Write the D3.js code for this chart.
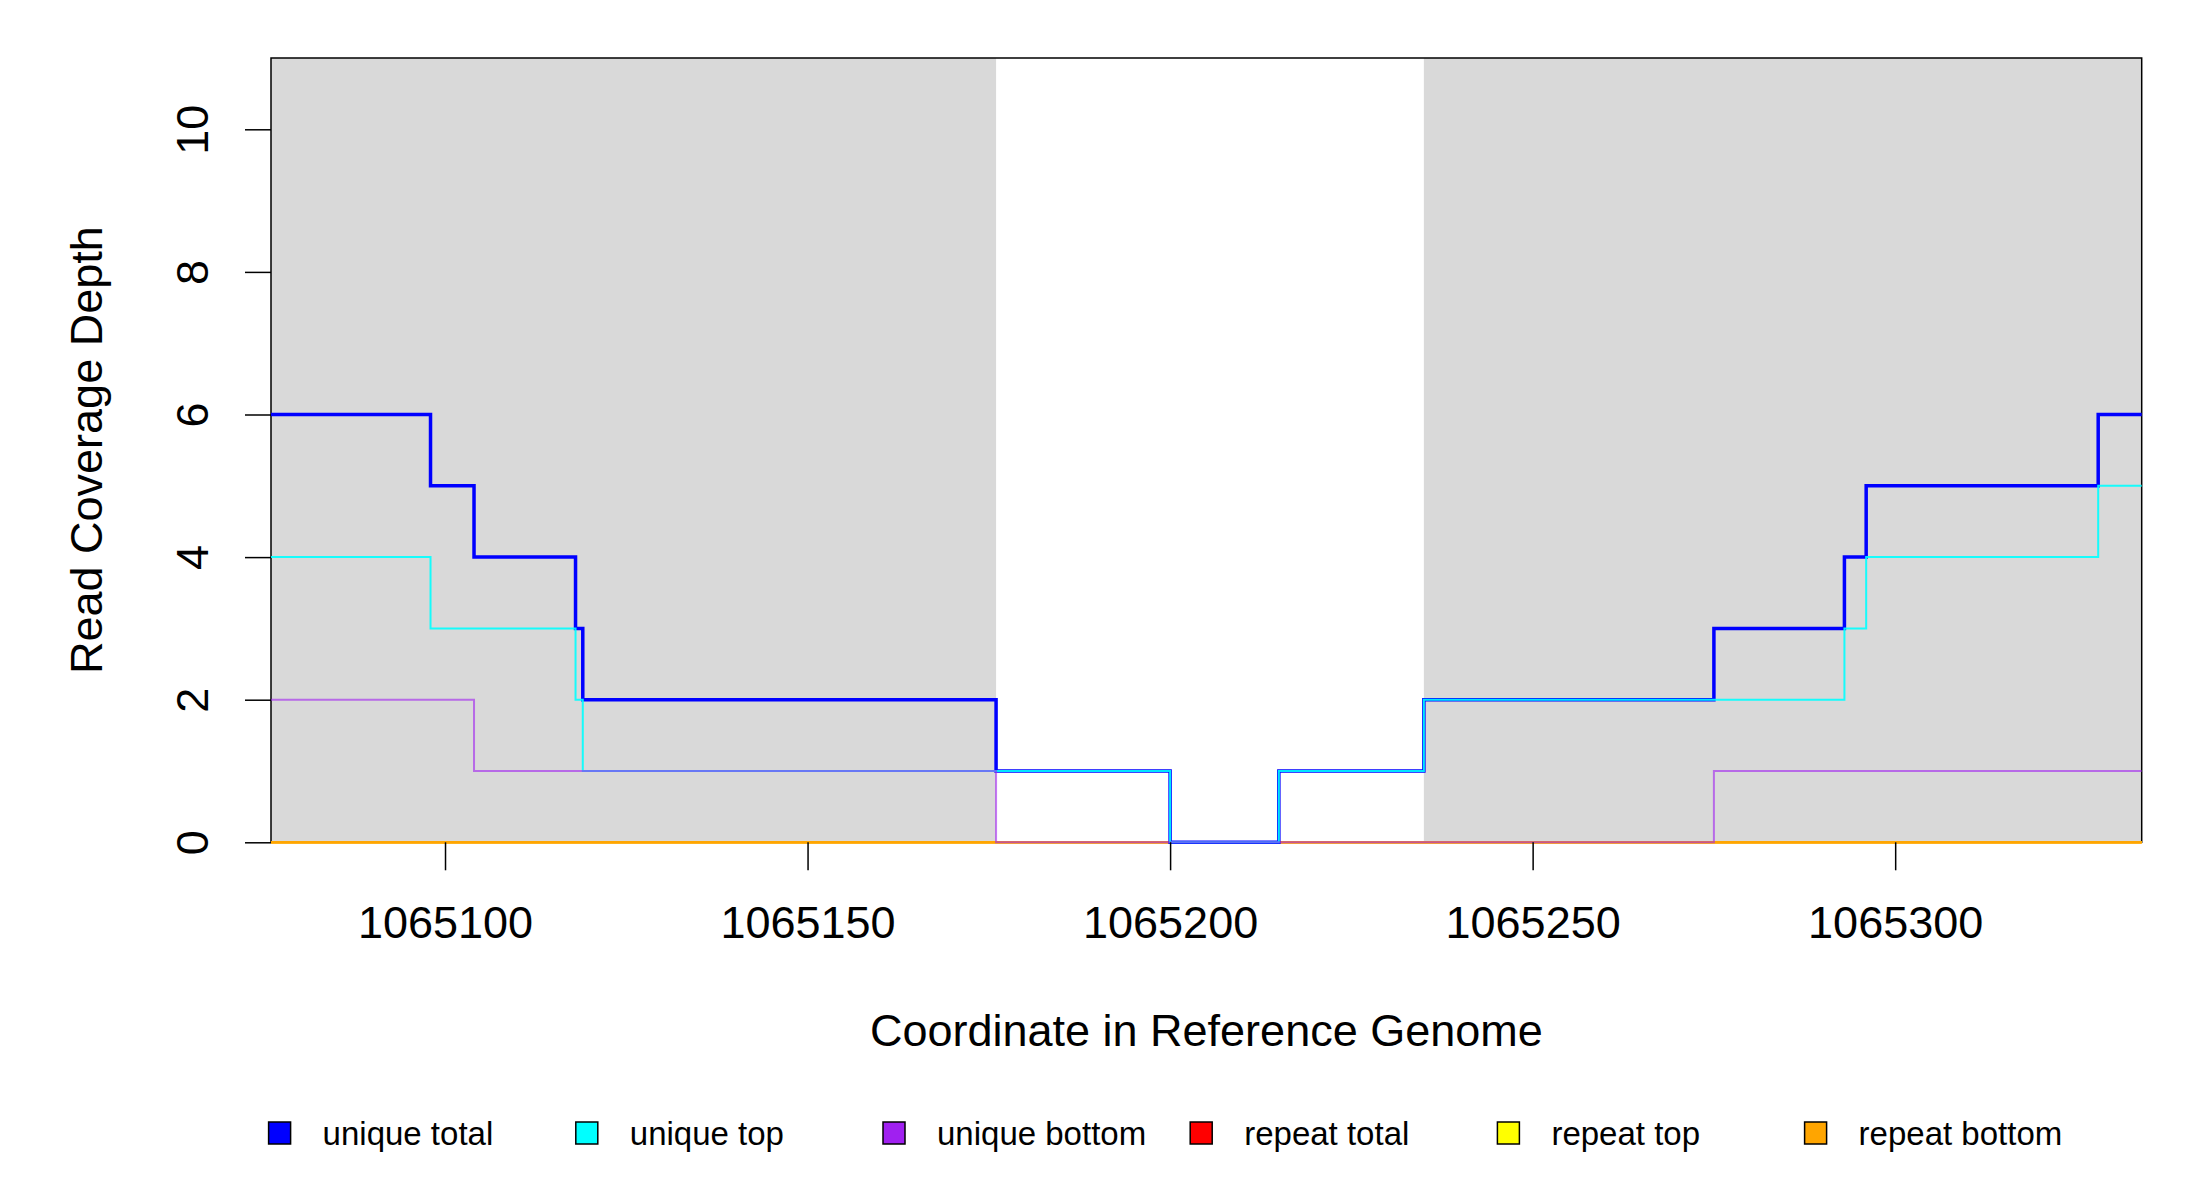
<!DOCTYPE html>
<html>
<head>
<meta charset="utf-8">
<script src="https://cdn.jsdelivr.net/npm/d3@7"></script>
<style>
  body { margin: 0; background: #fff; }
  text { font-family: "Liberation Sans", Arial, sans-serif; fill: #000; }
</style>
</head>
<body>
<svg id="chart" width="2200" height="1200"></svg>
<script>
(function () {
    'use strict';

    // step breakpoints (reference coordinate where each value starts)
    var positions = [1065076, 1065098, 1065104, 1065118, 1065119, 1065176, 1065200,
                     1065215, 1065235, 1065275, 1065293, 1065296, 1065328, 1065334];
    var uniqueTotal  = [6, 5, 4, 3, 2, 1, 0, 1, 2, 3, 4, 5, 6, 6];
    var uniqueTop    = [4, 3, 3, 2, 1, 1, 0, 1, 2, 2, 3, 4, 5, 5];
    var uniqueBottom = [2, 2, 1, 1, 1, 0, 0, 0, 0, 1, 1, 1, 1, 1];
    var repeatTotal  = [0, 0, 0, 0, 0, 0, 0, 0, 0, 0, 0, 0, 0, 0];
    var repeatTop    = [0, 0, 0, 0, 0, 0, 0, 0, 0, 0, 0, 0, 0, 0];
    var repeatBottom = [0, 0, 0, 0, 0, 0, 0, 0, 0, 0, 0, 0, 0, 0];

    // shaded regions [start, end]
    var regions = [[1065076, 1065176], [1065235, 1065334]];

    var xTicks = [1065100, 1065150, 1065200, 1065250, 1065300];
    var yTicks = [0, 2, 4, 6, 8, 10];

    var legendLabels = ['unique total', 'unique top', 'unique bottom',
                        'repeat total', 'repeat top', 'repeat bottom'];
    var legendColors = ['#0000FF', '#00FFFF', '#A020F0', '#FF0000', '#FFFF00', '#FFA500'];

    var left = 271, right = 2141.7, top = 58, bottom = 842.3;

    var svg = d3.select('#chart');

    var x = d3.scaleLinear().domain([1065076, 1065334]).range([left, right]);
    var y = d3.scaleLinear().domain([0, 11]).range([bottom, top]);

    // grey regions
    svg.selectAll('rect.region')
        .data(regions)
        .enter().append('rect')
        .attr('class', 'region')
        .attr('x', function (d) { return x(d[0]); })
        .attr('width', function (d) { return x(d[1]) - x(d[0]); })
        .attr('y', top)
        .attr('height', bottom - top)
        .style('fill', '#D9D9D9');

    // box (lines are drawn over it)
    svg.append('rect')
        .attr('x', left).attr('y', top)
        .attr('width', right - left).attr('height', bottom - top)
        .style('fill', 'none').style('stroke', '#000').style('stroke-width', 1.5);

    var line = d3.line()
        .x(function (d) { return x(d[0]); })
        .y(function (d) { return y(d[1]); })
        .curve(d3.curveStepAfter);

    function zipped(vals) {
        return positions.map(function (p, i) { return [p, vals[i]]; });
    }

    var series = [
        {vals: repeatTotal,  color: '#FF0000', width: 2.5, op: 1},
        {vals: repeatTop,    color: '#FFFF00', width: 2.5, op: 1},
        {vals: repeatBottom, color: '#FFA500', width: 2.5, op: 1},
        {vals: uniqueTotal,  color: '#0000FF', width: 3.5, op: 1},
        {vals: uniqueTop,    color: '#00FFFF', width: 2,   op: 0.9},
        {vals: uniqueBottom, color: '#A020F0', width: 2,   op: 0.6}
    ];

    svg.selectAll('path.series')
        .data(series)
        .enter().append('path')
        .attr('class', 'series')
        .attr('d', function (d) { return line(zipped(d.vals)); })
        .style('fill', 'none')
        .style('stroke', function (d) { return d.color; })
        .style('stroke-width', function (d) { return d.width; })
        .style('stroke-opacity', function (d) { return d.op; })
        .style('stroke-linejoin', 'miter')
        .style('stroke-linecap', 'butt');

    // x axis
    var xAxis = svg.append('g')
        .attr('transform', 'translate(0,' + bottom + ')')
        .call(d3.axisBottom(x).tickValues(xTicks).tickFormat(d3.format('d'))
            .tickSize(28).tickPadding(0));
    xAxis.select('.domain').remove();
    xAxis.selectAll('line').style('stroke', '#000').style('stroke-width', 1.5);
    xAxis.selectAll('text')
        .attr('y', 96).attr('dy', 0)
        .style('font-size', '45px')
        .style('font-family', '"Liberation Sans", Arial, sans-serif');

    // y axis
    var yAxis = svg.append('g')
        .attr('transform', 'translate(' + left + ',0)')
        .call(d3.axisLeft(y).tickValues(yTicks).tickSize(26));
    yAxis.select('.domain').remove();
    yAxis.selectAll('line').style('stroke', '#000').style('stroke-width', 1.5);
    yAxis.selectAll('text')
        .attr('x', null).attr('dy', null)
        .attr('text-anchor', 'middle')
        .attr('transform', 'translate(-63,0) rotate(-90)')
        .style('font-size', '45px')
        .style('font-family', '"Liberation Sans", Arial, sans-serif');

    // axis titles
    svg.append('text')
        .attr('x', (left + right) / 2).attr('y', 1046)
        .attr('text-anchor', 'middle')
        .style('font-size', '45px')
        .text('Coordinate in Reference Genome');

    svg.append('text')
        .attr('transform', 'translate(101.7,' + ((top + bottom) / 2) + ') rotate(-90)')
        .attr('text-anchor', 'middle')
        .style('font-size', '45px')
        .text('Read Coverage Depth');

    // legend
    var legend = svg.selectAll('g.legend')
        .data(legendLabels)
        .enter().append('g')
        .attr('class', 'legend')
        .attr('transform', function (d, i) {
            return 'translate(' + (279.6 + i * 307.2) + ',1133)';
        });

    legend.append('rect')
        .attr('x', -11).attr('y', -11)
        .attr('width', 22).attr('height', 22)
        .style('fill', function (d, i) { return legendColors[i]; })
        .style('stroke', '#000').style('stroke-width', 1.5);

    legend.append('text')
        .attr('x', 43).attr('y', 12)
        .style('font-size', '33px')
        .text(function (d) { return d; });

}());
</script>
</body>
</html>
